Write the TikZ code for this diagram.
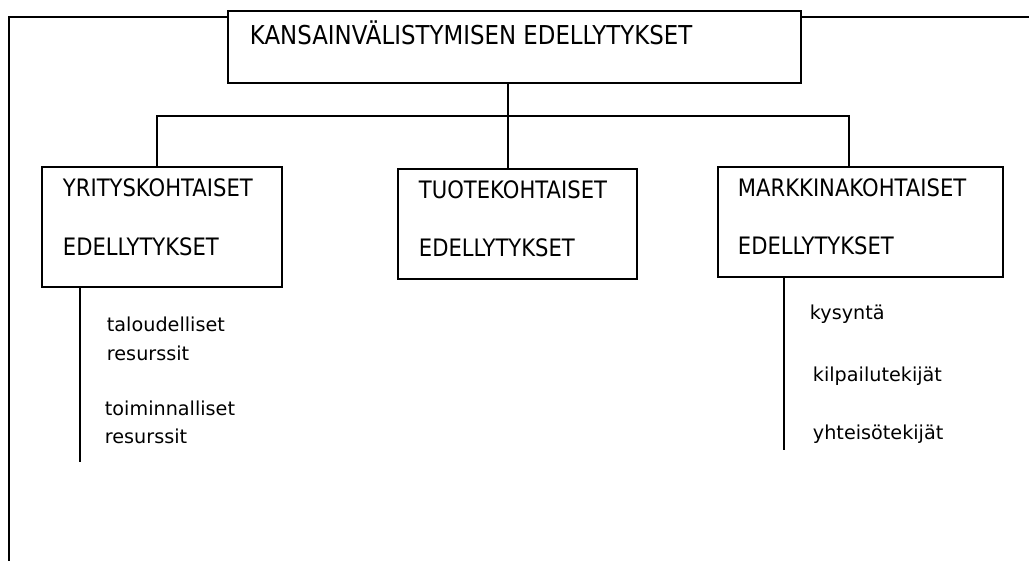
\documentclass[tikz,border=0pt]{standalone}
\usepackage{fontspec}
\newfontfamily\bigf[FakeStretch=0.88]{DejaVu Sans}
\newfontfamily\smallf{DejaVu Sans}
\begin{document}
\begin{tikzpicture}[x=1pt,y=-1pt,line width=1.9pt,
  box/.style={draw,line width=1.9pt,anchor=north west,inner sep=0pt},
  big/.style={anchor=base west,inner sep=0pt,font=\bigf\fontsize{24}{28}\selectfont},
  title/.style={anchor=base west,inner sep=0pt,font=\bigf\fontsize{26}{30}\selectfont},
  small/.style={anchor=base west,inner sep=0pt,font=\smallf\fontsize{19.2}{23}\selectfont}]
\useasboundingbox (0,0) rectangle (1029,561);
% boxes
\node[box,minimum width=573pt,minimum height=72pt] (top) at (227,10) {};
\node[box,minimum width=240pt,minimum height=120pt] (yr) at (41,166) {};
\node[box,minimum width=239pt,minimum height=110pt] (tu) at (397,168) {};
\node[box,minimum width=285pt,minimum height=110pt] (mk) at (717,166) {};
% texts
\node[title] (t0) at (249,45) {KANSAINVÄLISTYMISEN EDELLYTYKSET};
\node[big] (y1) at (62,197) {YRITYSKOHTAISET};
\node[big] (y2) at (62,256) {EDELLYTYKSET};
\node[big] (u1) at (418,199) {TUOTEKOHTAISET};
\node[big] (u2) at (418,257) {EDELLYTYKSET};
\node[big] (m1) at (737,197) {MARKKINAKOHTAISET};
\node[big] (m2) at (737,255) {EDELLYTYKSET};
\node[small] (s1) at (106,332) {taloudelliset};
\node[small] (s2) at (106,361) {resurssit};
\node[small] (s3) at (104,416) {toiminnalliset};
\node[small] (s4) at (104,443) {resurssit};
\node[small] (r1) at (809,320) {kysyntä};
\node[small] (r2) at (812,382) {kilpailutekijät};
\node[small] (r3) at (812,440) {yhteisötekijät};
% coordinates
\coordinate (lb) at (9,561);
\coordinate (rb) at (1029,17);
\coordinate (mid) at (508,116);
\coordinate (busl) at (157,116);
\coordinate (busr) at (849,116);
\coordinate (subl) at (80,462);
\coordinate (subr) at (784,450);
% connectors
\draw ([yshift=-7pt]top.north west) -| (lb);
\draw ([yshift=-7pt]top.north east) -- (rb);
\draw (mid |- top.south) -- (mid |- tu.north);
\draw (busl |- yr.north) -- (busl) -- (busr) -- (busr |- mk.north);
\draw (subl |- yr.south) -- (subl);
\draw (subr |- mk.south) -- (subr);
\end{tikzpicture}
\end{document}
